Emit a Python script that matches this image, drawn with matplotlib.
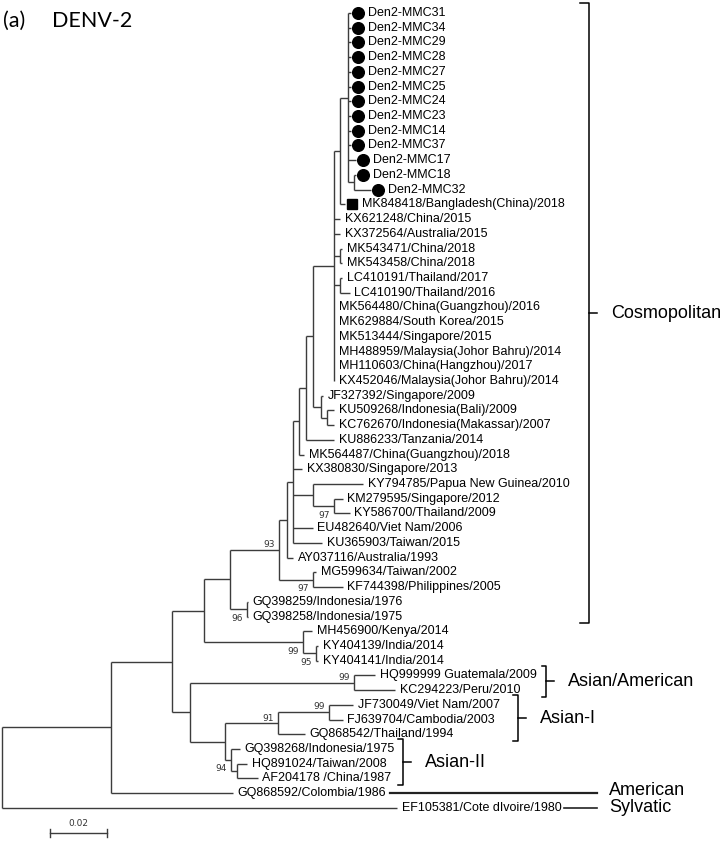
"""
DENV-2 phylogenetic tree (neighbour-joining style, MEGA look)
Rectangular cladogram drawn from node depths + leaf order.
"""

import matplotlib.pyplot as plt

# ---------------- data ----------------
# depths are in substitutions/site from the root (0.02)

leaf_labels = [
    "Den2-MMC31", "Den2-MMC34", "Den2-MMC29", "Den2-MMC28", "Den2-MMC27",
    "Den2-MMC25", "Den2-MMC24", "Den2-MMC23", "Den2-MMC14", "Den2-MMC37",
    "Den2-MMC17", "Den2-MMC18", "Den2-MMC32",
    "MK848418/Bangladesh(China)/2018",
    "KX621248/China/2015", "KX372564/Australia/2015",
    "MK543471/China/2018", "MK543458/China/2018",
    "LC410191/Thailand/2017", "LC410190/Thailand/2016",
    "MK564480/China(Guangzhou)/2016", "MK629884/South Korea/2015",
    "MK513444/Singapore/2015", "MH488959/Malaysia(Johor Bahru)/2014",
    "MH110603/China(Hangzhou)/2017", "KX452046/Malaysia(Johor Bahru)/2014",
    "JF327392/Singapore/2009", "KU509268/Indonesia(Bali)/2009",
    "KC762670/Indonesia(Makassar)/2007", "KU886233/Tanzania/2014",
    "MK564487/China(Guangzhou)/2018", "KX380830/Singapore/2013",
    "KY794785/Papua New Guinea/2010", "KM279595/Singapore/2012",
    "KY586700/Thailand/2009", "EU482640/Viet Nam/2006",
    "KU365903/Taiwan/2015", "AY037116/Australia/1993",
    "MG599634/Taiwan/2002", "KF744398/Philippines/2005",
    "GQ398259/Indonesia/1976", "GQ398258/Indonesia/1975",
    "MH456900/Kenya/2014", "KY404139/India/2014", "KY404141/India/2014",
    "HQ999999 Guatemala/2009", "KC294223/Peru/2010",
    "JF730049/Viet Nam/2007", "FJ639704/Cambodia/2003", "GQ868542/Thailand/1994",
    "GQ398268/Indonesia/1975", "HQ891024/Taiwan/2008", "AF204178 /China/1987",
    "GQ868592/Colombia/1986", "EF105381/Cote dIvoire/1980",
]
leaf_parent = (
    ["MMC"] * 10 + ["MMC", "MMC_sub", "MMC_sub", "B"]
    + ["C", "C", "MK543", "MK543", "LC4101", "LC4101"] + ["C"] * 6
    + ["E", "F", "F", "G", "H", "I", "J", "KM_KY", "KM_KY", "I", "I", "K",
       "MG_KF", "MG_KF", "GQ3982", "GQ3982", "KEN", "IND", "IND",
       "Q", "Q", "U", "U", "S", "T", "V", "V", "W", "root"]
)
leaf_depth = (
    [0.1225] * 10 + [0.1242, 0.1242, 0.1295, 0.1204]
    + [0.1186, 0.1186, 0.1193, 0.1193, 0.1193, 0.1221] + [0.1165] * 6
    + [0.1126, 0.1165, 0.1165, 0.1165, 0.1060, 0.1053, 0.1267, 0.1196, 0.1221,
       0.1091, 0.1123, 0.1021, 0.1102, 0.1196, 0.0863, 0.0863, 0.1088, 0.1109,
       0.1109, 0.1309, 0.1379, 0.1232, 0.1196, 0.1063, 0.0835, 0.0860, 0.0898,
       0.0811, 0.1386]
)
leaf_marker = ["o"] * 13 + ["s"] + [""] * 41

inner_names = ["root", "W", "O", "N", "M", "L", "K", "I", "H", "G", "D", "C", "B",
               "MMC", "MMC_sub", "MK543", "LC4101", "E", "F", "J", "KM_KY", "MG_KF",
               "GQ3982", "KEN", "IND", "P", "Q", "R", "S", "U", "T", "V"]
inner_parent = [None, "root", "W", "O", "N", "M", "L", "K", "I", "H", "G", "D", "C",
                "B", "MMC", "C", "C", "D", "E", "I", "J", "L",
                "M", "N", "KEN", "O", "P", "P", "R", "S", "R", "T"]
inner_depth = [0.0, 0.0382, 0.0596, 0.0709, 0.0800, 0.0972, 0.1000, 0.1021, 0.1042,
               0.1067, 0.1091, 0.1165, 0.1186, 0.1214, 0.1235, 0.1186, 0.1186,
               0.1119, 0.1140, 0.1091, 0.1165, 0.1091, 0.0860, 0.1056, 0.1102,
               0.0660, 0.1235, 0.0782, 0.0968, 0.1147, 0.0804, 0.0825]

bs_nodes = ["L", "KM_KY", "MG_KF", "GQ3982", "KEN", "IND", "Q", "U", "S", "T"]
bs_values = [93, 97, 97, 96, 99, 95, 99, 99, 91, 94]
bs_side = ["above", "below", "below", "below", "below", "below",
           "above", "above", "above", "below"]

# clade brackets: label, first leaf row, last leaf row
clade_names = ["Cosmopolitan", "Asian/American", "Asian-I", "Asian-II"]
clade_first = [0, 45, 47, 50]
clade_last = [41, 46, 49, 52]

# ---------------- layout helpers ----------------
PX = 0.02 / 57          # distance per pixel (scale bar is 57 px long)
ROW = 14.72             # pixels per leaf row
W_PX, H_PX = 724, 851
TREE_C = "#3c3c3c"
FONT = "Liberation Sans"


def px_x(p):
    return (p - 2) * PX


def px_y(p):
    return (p - 13) / ROW


# ---------------- build tree ----------------
depth = dict(zip(inner_names, inner_depth))
parent = dict(zip(inner_names, inner_parent))
children = {n: [] for n in inner_names}
ypos = {}
for i, (lab, par, d) in enumerate(zip(leaf_labels, leaf_parent, leaf_depth)):
    key = ("leaf", i)
    depth[key] = d
    parent[key] = par
    ypos[key] = float(i)
for n, p in zip(inner_names, inner_parent):
    if p is not None:
        children[p].append(n)
for i, p in enumerate(leaf_parent):
    children[p].append(("leaf", i))


def node_y(n):
    if n in ypos:
        return ypos[n]
    ys = [node_y(c) for c in children[n]]
    ypos[n] = (min(ys) + max(ys)) / 2
    return ypos[n]


node_y("root")

# ---------------- plot ----------------
fig = plt.figure(figsize=(W_PX / 100, H_PX / 100), dpi=100)
ax = fig.add_axes([0, 0, 1, 1])
ax.set_xlim(px_x(0), px_x(W_PX))
ax.set_ylim(px_y(H_PX), px_y(0))
ax.axis("off")

lw = 1.0
for n in inner_names:
    ys = [ypos[c] for c in children[n]]
    ax.plot([depth[n], depth[n]], [min(ys), max(ys)], color=TREE_C, lw=lw,
            solid_capstyle="butt")
for n, p in parent.items():
    if p is None:
        continue
    ax.plot([depth[p], depth[n]], [ypos[n], ypos[n]], color=TREE_C, lw=lw,
            solid_capstyle="butt")

# leaf labels and markers
for i, lab in enumerate(leaf_labels):
    d = leaf_depth[i]
    mk = leaf_marker[i]
    if mk:
        ax.plot(d + 7 * PX, i, marker=mk, color="black", ms=8.4 if mk == "o" else 7.6,
                ls="none")
        tx = d + 17 * PX
    else:
        tx = d + 4.5 * PX
    ax.text(tx, i, lab, fontsize=9, family=FONT, va="center", ha="left")

# bootstrap values
for n, v, side in zip(bs_nodes, bs_values, bs_side):
    if side == "above":
        ax.text(depth[n] - 4 * PX, ypos[n] - 0.05, str(v), fontsize=6.5,
                family="DejaVu Sans", color="#333333", ha="right", va="bottom")
    else:
        ax.text(depth[n] - 4 * PX, ypos[n] + 0.3, str(v), fontsize=6.5,
                family="DejaVu Sans", color="#333333", ha="right", va="top")

# clade brackets
br_x = [589, 546, 518, 403]
br_serif = [9, 4, 5, 5]
for name, f, l, bx, sf in zip(clade_names, clade_first, clade_last, br_x, br_serif):
    y0, y1 = f - 0.65, l + 0.45
    x = px_x(bx)
    ax.plot([x - sf * PX, x, x, x - sf * PX], [y0, y0, y1, y1], color="black", lw=1.1)
    ym = (y0 + y1) / 2
    ax.plot([x, x + 8 * PX], [ym, ym], color="black", lw=1.1)
    ax.text(x + 22 * PX, ym, name, fontsize=13, family=FONT, va="center", ha="left")

# American / Sylvatic lineage lines
i_am = leaf_labels.index("GQ868592/Colombia/1986")
i_sy = leaf_labels.index("EF105381/Cote dIvoire/1980")
ax.plot([px_x(390), px_x(597)], [i_am, i_am], color="#222222", lw=1.6)
ax.plot([px_x(564), px_x(597)], [i_sy, i_sy], color="#222222", lw=1.2)
ax.text(px_x(609), i_am - 0.15, "American", fontsize=13, family=FONT, va="center")
ax.text(px_x(609), i_sy, "Sylvatic", fontsize=13, family=FONT, va="center")

# scale bar
sb0 = px_x(50)
sb_y = px_y(833)
ax.plot([sb0, sb0 + 0.02], [sb_y, sb_y], color=TREE_C, lw=1.0)
for xx in (sb0, sb0 + 0.02):
    ax.plot([xx, xx], [sb_y - 0.25, sb_y + 0.25], color=TREE_C, lw=1.0)
ax.text(sb0 + 0.01, sb_y - 0.35, "0.02", fontsize=6.5, family="DejaVu Sans",
        color="#333333", ha="center", va="bottom")

# panel title
fig.text(3 / W_PX, 1 - 21 / H_PX, "(a)", fontsize=15.5, family="Lato", va="center")
fig.text(52 / W_PX, 1 - 21 / H_PX, "DENV-2", fontsize=15.5, family="Lato", va="center")

fig.savefig("out.png", dpi=100)
